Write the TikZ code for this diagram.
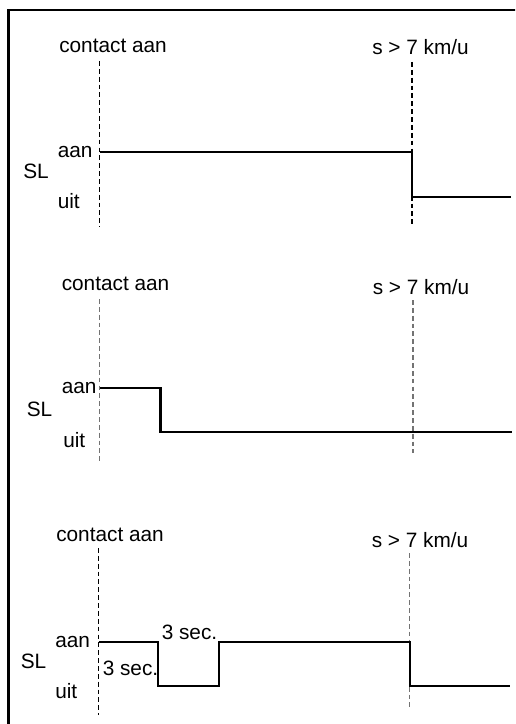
\documentclass[tikz,border=0pt]{standalone}
\usepackage{fontspec}
\setmainfont{Liberation Sans}
\begin{document}
\begin{tikzpicture}[x=0.75pt,y=-0.75pt,
  lbl/.style={anchor=base west,inner sep=0pt,font=\fontsize{15.6}{18}\selectfont},
  sig/.style={line width=1.6pt,line join=miter},
  marker/.style={line width=0.85pt,dash pattern=on 3.6pt off 2.3pt},
  greymarker/.style={marker,draw=black!55}]
\useasboundingbox (0,0) rectangle (515,724);
\begin{scope}
\clip (0,0) rectangle (515,724);
\draw[line width=1.6pt] (8.5,10) rectangle (560,780);
\end{scope}

% ---- panel 1
\node[lbl] (ca1) at (59,53) {contact aan};
\node[lbl] (sv1) at (372,55) {s > 7 km/u};
\node[lbl] (aan1) at (57.5,157) {aan};
\node[lbl] (sl1) at (23,178) {SL};
\node[lbl] (uit1) at (57.5,208) {uit};
\draw[marker] (99.5,61) -- (99.5,227);
\draw[marker] (412,62) -- (412,225);
\draw[sig] (100,152) -- (412,152) -- (412,197) -- (511,197);

% ---- panel 2
\node[lbl] (ca2) at (61.5,290) {contact aan};
\node[lbl] (sv2) at (372.5,294) {s > 7 km/u};
\node[lbl] (aan2) at (61.5,393) {aan};
\node[lbl] (sl2) at (26.5,416) {SL};
\node[lbl] (uit2) at (63,447) {uit};
\draw[greymarker] (99.5,299) -- (99.5,464);
\draw[greymarker] (413,300) -- (413,453);
\draw[sig] (100,388) -- (160.5,388) -- (160.5,432) -- (511.5,432);

% ---- panel 3
\node[lbl] (ca3) at (56,541) {contact aan};
\node[lbl] (sv3) at (371.5,547) {s > 7 km/u};
\node[lbl] (aan3) at (55,647) {aan};
\node[lbl] (sl3) at (20.5,668) {SL};
\node[lbl] (uit3) at (55,698) {uit};
\node[lbl] (t3a) at (161.5,639) {3 sec.};
\node[lbl] (t3b) at (102.5,675.5) {3 sec.};
\draw[marker] (98.5,548) -- (98.5,715);
\draw[greymarker] (409.5,553) -- (409.5,710);
\draw[sig] (98.5,642) -- (158,642) -- (158,686) -- (219,686) -- (219,642)
  -- (410,642) -- (410,686) -- (510,686);
\end{tikzpicture}
\end{document}
